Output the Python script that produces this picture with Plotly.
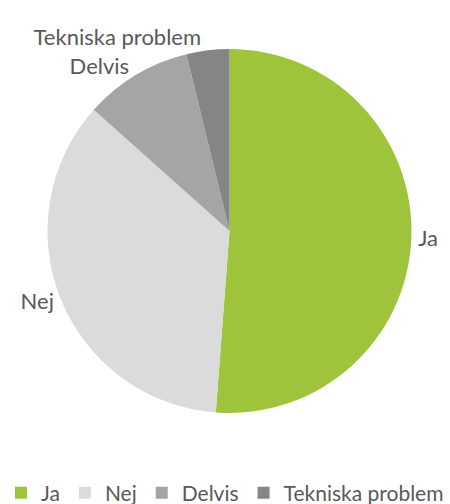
import plotly.graph_objects as go

labels = ["Ja", "Nej", "Delvis", "Tekniska problem"]
values = [51.2, 35.4, 9.6, 3.8]
colors = ["#9DC43A", "#DBDBDB", "#A5A5A5", "#858585"]

fig = go.Figure(go.Pie(
    labels=labels,
    values=values,
    sort=False,
    direction="clockwise",
    rotation=0,
    marker=dict(colors=colors, line=dict(width=0)),
    textinfo="label",
    textposition="outside",
    textfont=dict(family="Lato", size=22, color="#595959"),
    domain=dict(x=[47/450, 412/450], y=[1-413/504, 1-49/504]),
    hoverinfo="label+percent",
))

fig.update_layout(
    width=450, height=504,
    margin=dict(l=0, r=0, t=0, b=0, autoexpand=False),
    paper_bgcolor="white",
    showlegend=True,
    legend=dict(orientation="h", x=0.5, xanchor="center", y=1-493/504, yanchor="middle",
                font=dict(family="Lato", size=21, color="#595959"),
                itemwidth=30, traceorder="normal"),
)

fig.write_html("out.html")
